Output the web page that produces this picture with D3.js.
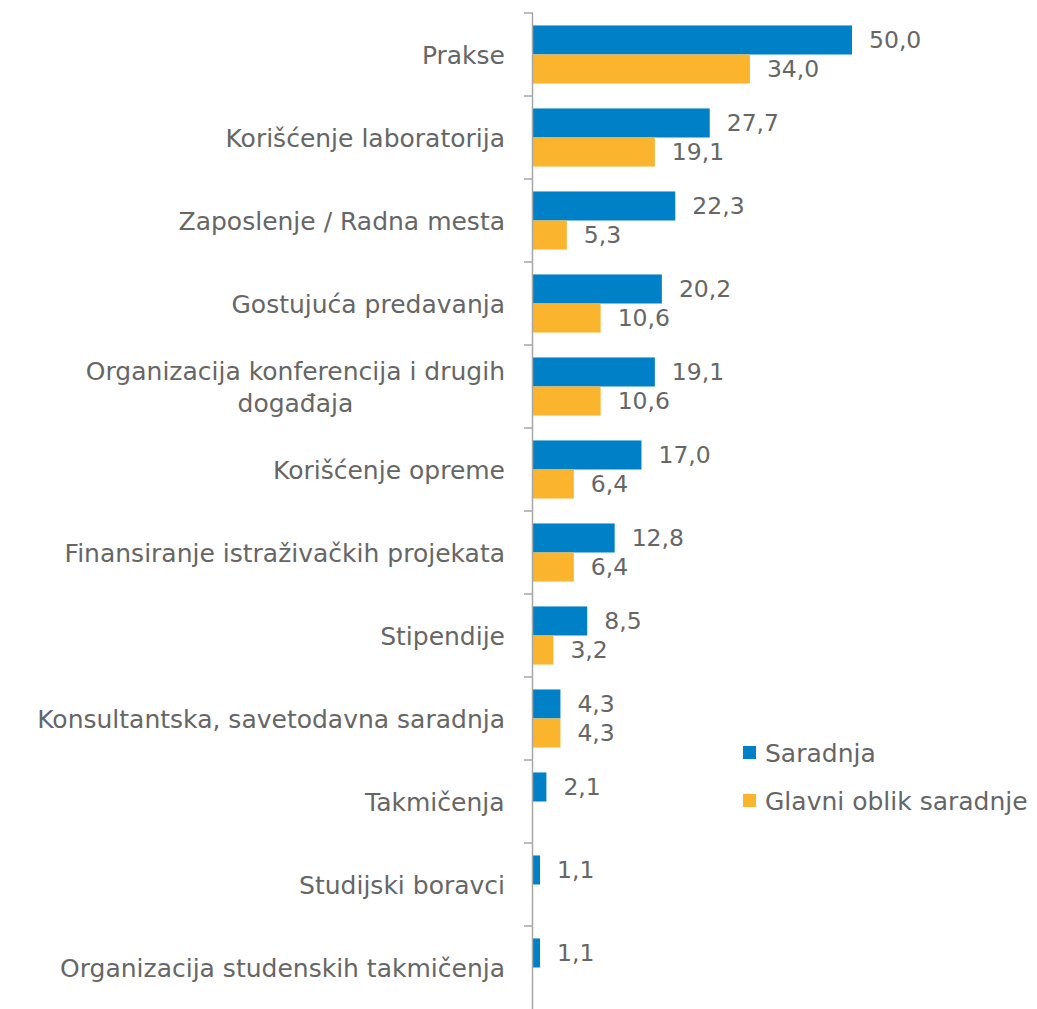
<!DOCTYPE html>
<html>
<head>
<meta charset="utf-8">
<script src="https://cdn.jsdelivr.net/npm/d3@7"></script>
<style>
  body { margin: 0; background: #fff; }
  text { font-family: "DejaVu Sans", sans-serif; fill: #666666; }
</style>
</head>
<body>
<div id="app"></div>
<script>
// data
var categories = [
  'Prakse',
  'Korišćenje laboratorija',
  'Zaposlenje / Radna mesta',
  'Gostujuća predavanja',
  'Organizacija konferencija i drugih|događaja',
  'Korišćenje opreme',
  'Finansiranje istraživačkih projekata',
  'Stipendije',
  'Konsultantska, savetodavna saradnja',
  'Takmičenja',
  'Studijski boravci',
  'Organizacija studenskih takmičenja'
];
var saradnja = [50.0, 27.7, 22.3, 20.2, 19.1, 17.0, 12.8, 8.5, 4.3, 2.1, 1.1, 1.1];
var glavni   = [34.0, 19.1, 5.3, 10.6, 10.6, 6.4, 6.4, 3.2, 4.3, null, null, null];
var seriesNames = ['Saradnja', 'Glavni oblik saradnje'];
var colors = ['#0080C6', '#FBB42E'];

var width = 1037, height = 1009;
var axisX = 533, plotTop = 13, plotBottom = 1009;

var svg = d3.select('#app').append('svg')
    .attr('width', width)
    .attr('height', height);

var y = d3.scaleBand()
    .domain(d3.range(categories.length))
    .range([plotTop, plotBottom])
    .paddingInner(0.3)
    .paddingOuter(0.15);

var ySub = d3.scaleBand()
    .domain([0, 1])
    .range([0, y.bandwidth()]);

var x = d3.scaleLinear()
    .domain([0, 50])
    .range([axisX, 852]);

var fmt = function(v){ return d3.format('.1f')(v).replace('.', ','); };

// bars
var series = [saradnja, glavni];
series.forEach(function(vals, s){
  var rows = vals.map(function(v, i){ return {v: v, i: i}; }).filter(function(d){ return d.v != null; });
  var g = svg.append('g').attr('class', 'series' + s);
  g.selectAll('rect')
      .data(rows)
    .enter().append('rect')
      .attr('x', x(0))
      .attr('y', function(d){ return y(d.i) + ySub(s); })
      .attr('width', function(d){ return x(d.v) - x(0); })
      .attr('height', ySub.bandwidth())
      .style('fill', colors[s]);
  g.selectAll('text')
      .data(rows)
    .enter().append('text')
      .attr('x', function(d){ return x(d.v) + 17; })
      .attr('y', function(d){ return y(d.i) + ySub(s) + ySub.bandwidth() / 2; })
      .attr('dy', '0.36em')
      .style('font-size', '23.5px')
      .text(function(d){ return fmt(d.v); });
});

// axis line and ticks
var step = (plotBottom - plotTop) / categories.length;
var axis = svg.append('g').attr('class', 'axis');
axis.append('line')
    .attr('x1', axisX - 0.5).attr('x2', axisX - 0.5)
    .attr('y1', plotTop).attr('y2', plotBottom)
    .style('stroke', '#A6A6A6').style('stroke-width', 1.5);
axis.selectAll('.tick')
    .data(d3.range(categories.length))
  .enter().append('line')
    .attr('x1', axisX - 9).attr('x2', axisX)
    .attr('y1', function(i){ return plotTop + i * step; })
    .attr('y2', function(i){ return plotTop + i * step; })
    .style('stroke', '#A6A6A6').style('stroke-width', 1.5);

// category labels
var labels = svg.append('g').attr('class', 'labels');
categories.forEach(function(c, i){
  var lines = c.split('|');
  var cy = y(i) + y.bandwidth() / 2;
  var lh = 32;
  var t = labels.append('text')
      .style('font-size', '25px')
      .style('text-anchor', 'middle');
  lines.forEach(function(l, k){
    t.append('tspan')
        .attr('x', 0)
        .attr('y', cy - (lines.length - 1) * lh / 2 + k * lh)
        .attr('dy', '0.36em')
        .text(l);
  });
  // right align the block, lines centered within it
  var w = t.node().getBBox().width;
  t.attr('transform', 'translate(' + (505 - w / 2) + ',0)');
});

// legend
var legend = svg.append('g').attr('class', 'legend');
seriesNames.forEach(function(n, s){
  var ly = 753 + s * 48;
  legend.append('rect')
      .attr('x', 743).attr('y', ly - 7)
      .attr('width', 13).attr('height', 13)
      .style('fill', colors[s]);
  legend.append('text')
      .attr('x', 765).attr('y', ly)
      .attr('dy', '0.36em')
      .style('font-size', '25px')
      .text(n);
});
</script>
</body>
</html>
